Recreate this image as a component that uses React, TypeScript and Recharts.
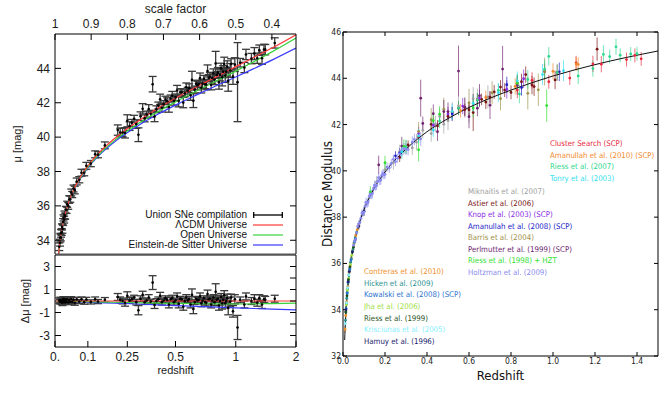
import React from "react";
import { ComposedChart, Scatter, Line, XAxis, YAxis, ErrorBar } from "recharts";

const SANS = "'Liberation Sans', Arial, Helvetica, sans-serif";
const MPL = "'DejaVu Sans Condensed', 'DejaVu Sans', sans-serif";

// ---------- left figure: Union compilation against three models ----------
const MODEL_Z = [0.008, 0.01, 0.015, 0.02, 0.03, 0.05, 0.07, 0.1, 0.15, 0.2, 0.3, 0.4, 0.5, 0.6, 0.7, 0.8, 1.0, 1.2, 1.5, 2.0];
const MU_LCDM = [32.69, 33.18, 34.07, 34.7, 35.6, 36.74, 37.5, 38.32, 39.27, 39.95, 40.94, 41.69, 42.26, 42.74, 43.14, 43.49, 44.1, 44.59, 45.18, 45.96];
const MU_OPEN = [32.68, 33.17, 34.05, 34.69, 35.57, 36.7, 37.45, 38.25, 39.17, 39.84, 40.79, 41.49, 42.05, 42.51, 42.9, 43.25, 43.84, 44.34, 44.96, 45.77];
const MU_EDS = [32.68, 33.16, 34.05, 34.67, 35.56, 36.68, 37.42, 38.21, 39.11, 39.76, 40.68, 41.34, 41.86, 42.29, 42.65, 42.97, 43.5, 43.94, 44.48, 45.18];

const RES_Z = [0, 0.1, 0.2, 0.3, 0.5, 0.7, 1.0, 1.5, 2.0];
const RES_LCDM = [0, 0, 0, 0, 0, 0, 0, 0, 0];
const RES_OPEN = [0, -0.06, -0.11, -0.15, -0.21, -0.24, -0.26, -0.22, -0.19];
const RES_EDS = [0, -0.1, -0.19, -0.26, -0.4, -0.49, -0.6, -0.7, -0.78];

// [redshift, mu, error]
const UNION = [
  [0.012, 33.62, 0.22], [0.014, 33.86, 0.2], [0.015, 34.15, 0.25], [0.016, 34.15, 0.18],
  [0.017, 34.4, 0.22], [0.019, 34.48, 0.2], [0.02, 34.78, 0.18], [0.021, 34.66, 0.25],
  [0.023, 35.06, 0.2], [0.024, 35.3, 0.18], [0.026, 35.2, 0.2], [0.027, 35.48, 0.22],
  [0.029, 35.4, 0.18], [0.031, 35.77, 0.2], [0.033, 35.76, 0.2], [0.035, 36.09, 0.18],
  [0.038, 36.0, 0.2], [0.041, 36.37, 0.22], [0.044, 36.39, 0.18], [0.047, 36.78, 0.2],
  [0.05, 36.66, 0.18], [0.054, 37.01, 0.2], [0.058, 36.92, 0.22], [0.064, 37.42, 0.2],
  [0.072, 37.52, 0.18], [0.079, 37.93, 0.2], [0.088, 37.93, 0.18], [0.095, 38.33, 0.2],
  [0.11, 38.46, 0.18], [0.125, 39.0, 0.2], [0.135, 38.98, 0.18], [0.16, 39.52, 0.2],
  [0.21, 40.41, 0.3], [0.22, 40.27, 0.25], [0.23, 40.27, 0.25], [0.24, 40.25, 0.3],
  [0.25, 40.95, 0.35], [0.26, 40.64, 0.25], [0.27, 40.83, 0.2], [0.28, 41.07, 0.2],
  [0.29, 40.76, 0.25], [0.3, 40.14, 0.4], [0.31, 41.22, 0.25], [0.32, 41.65, 0.3],
  [0.33, 41.09, 0.2], [0.34, 41.31, 0.2], [0.35, 41.64, 0.25], [0.36, 41.36, 0.2],
  [0.37, 43.08, 0.45], [0.38, 41.2, 0.3], [0.39, 41.62, 0.2], [0.4, 41.84, 0.2],
  [0.41, 42.2, 0.3], [0.42, 41.71, 0.25], [0.43, 41.92, 0.2], [0.44, 42.18, 0.2],
  [0.45, 42.09, 0.2], [0.46, 41.75, 0.3], [0.47, 42.25, 0.2], [0.48, 42.41, 0.25],
  [0.49, 42.11, 0.25], [0.5, 42.31, 0.2], [0.51, 42.71, 0.3], [0.52, 42.11, 0.35],
  [0.53, 42.61, 0.2], [0.54, 42.61, 0.2], [0.55, 42.01, 0.3], [0.56, 42.55, 0.2],
  [0.57, 42.9, 0.25], [0.58, 42.7, 0.2], [0.59, 42.85, 0.25], [0.6, 42.44, 0.3],
  [0.61, 43.33, 0.5], [0.62, 42.12, 0.4], [0.63, 42.77, 0.2], [0.64, 43.11, 0.2],
  [0.65, 43.0, 0.25], [0.66, 43.09, 0.2], [0.67, 43.43, 0.3], [0.68, 42.87, 0.3],
  [0.69, 43.1, 0.25], [0.7, 43.39, 0.2], [0.71, 43.07, 0.25], [0.72, 43.06, 0.3],
  [0.73, 43.85, 0.35], [0.74, 43.44, 0.2], [0.75, 43.52, 0.25], [0.76, 43.05, 0.3],
  [0.77, 43.44, 0.3], [0.78, 43.72, 0.25], [0.79, 43.35, 0.3], [0.8, 44.29, 0.7],
  [0.81, 43.62, 0.2], [0.82, 43.75, 0.3], [0.83, 43.19, 0.4], [0.84, 43.62, 0.35],
  [0.85, 44.0, 0.3], [0.86, 43.48, 0.5], [0.87, 43.81, 0.35], [0.88, 44.25, 0.4],
  [0.89, 43.58, 0.4], [0.9, 43.81, 0.25], [0.91, 44.09, 0.35], [0.92, 43.27, 0.6],
  [0.94, 43.88, 0.4], [0.95, 44.26, 0.3], [0.97, 43.52, 0.45], [0.99, 44.22, 0.4],
  [1.02, 43.2, 2.3], [1.05, 44.33, 0.25], [1.1, 44.05, 0.3], [1.12, 44.81, 0.3],
  [1.19, 44.57, 0.3], [1.23, 44.86, 0.35], [1.27, 44.59, 0.3], [1.3, 45.06, 0.3],
  [1.34, 44.59, 0.35], [1.37, 45.1, 0.3], [1.39, 45.09, 0.3], [1.55, 45.48, 0.3],
];

// [redshift, delta mu, error]
const UNION_RES = [
  [0.012, 0.04, 0.22], [0.014, -0.05, 0.2], [0.015, 0.08, 0.25], [0.016, -0.06, 0.18],
  [0.017, 0.06, 0.22], [0.019, -0.1, 0.2], [0.02, 0.08, 0.18], [0.021, -0.15, 0.25],
  [0.023, 0.05, 0.2], [0.024, 0.2, 0.18], [0.026, -0.08, 0.2], [0.027, 0.12, 0.22],
  [0.029, -0.12, 0.18], [0.031, 0.1, 0.2], [0.033, -0.05, 0.2], [0.035, 0.15, 0.18],
  [0.038, -0.12, 0.2], [0.041, 0.08, 0.22], [0.044, -0.06, 0.18], [0.047, 0.18, 0.2],
  [0.05, -0.08, 0.18], [0.054, 0.1, 0.2], [0.058, -0.15, 0.22], [0.064, 0.12, 0.2],
  [0.072, -0.05, 0.18], [0.079, 0.15, 0.2], [0.088, -0.1, 0.18], [0.095, 0.12, 0.2],
  [0.11, -0.08, 0.18], [0.125, 0.15, 0.2], [0.135, -0.05, 0.18], [0.16, 0.1, 0.2],
  [0.21, 0.35, 0.3], [0.22, 0.1, 0.25], [0.23, 0.0, 0.25], [0.24, -0.15, 0.3],
  [0.25, 0.45, 0.35], [0.26, 0.05, 0.25], [0.27, 0.15, 0.2], [0.28, 0.3, 0.2],
  [0.29, -0.1, 0.25], [0.3, -0.8, 0.4], [0.31, 0.2, 0.25], [0.32, 0.55, 0.3],
  [0.33, -0.1, 0.2], [0.34, 0.05, 0.2], [0.35, 0.3, 0.25], [0.36, -0.05, 0.2],
  [0.37, 1.6, 0.6], [0.38, -0.35, 0.3], [0.39, 0.0, 0.2], [0.4, 0.15, 0.2],
  [0.41, 0.45, 0.3], [0.42, -0.1, 0.25], [0.43, 0.05, 0.2], [0.44, 0.25, 0.2],
  [0.45, 0.1, 0.2], [0.46, -0.3, 0.3], [0.47, 0.15, 0.2], [0.48, 0.25, 0.25],
  [0.49, -0.1, 0.25], [0.5, 0.05, 0.2], [0.51, 0.4, 0.3], [0.52, -0.25, 0.35],
  [0.53, 0.2, 0.2], [0.54, 0.15, 0.2], [0.55, -0.5, 0.3], [0.56, 0.0, 0.2],
  [0.57, 0.3, 0.25], [0.58, 0.05, 0.2], [0.59, 0.15, 0.25], [0.6, -0.3, 0.3],
  [0.61, 0.55, 0.5], [0.62, -0.7, 0.4], [0.63, -0.1, 0.2], [0.64, 0.2, 0.2],
  [0.65, 0.05, 0.25], [0.66, 0.1, 0.2], [0.67, 0.4, 0.3], [0.68, -0.2, 0.3],
  [0.69, 0.0, 0.25], [0.7, 0.25, 0.2], [0.71, -0.1, 0.25], [0.72, -0.15, 0.3],
  [0.73, 0.6, 0.35], [0.74, 0.15, 0.2], [0.75, 0.2, 0.25], [0.76, -0.3, 0.3],
  [0.77, 0.05, 0.3], [0.78, 0.3, 0.25], [0.79, -0.1, 0.3], [0.8, 0.8, 0.7],
  [0.81, 0.1, 0.2], [0.82, 0.2, 0.3], [0.83, -0.4, 0.4], [0.84, 0.0, 0.35],
  [0.85, 0.35, 0.3], [0.86, -0.2, 0.5], [0.87, 0.1, 0.35], [0.88, 0.5, 0.4],
  [0.89, -0.2, 0.4], [0.9, 0.0, 0.25], [0.91, 0.25, 0.35], [0.92, -0.6, 0.6],
  [0.94, -0.05, 0.4], [0.95, 0.3, 0.3], [0.97, -0.9, 0.5], [0.99, 0.15, 0.4],
  [1.02, -2.3, 1.05], [1.05, 0.1, 0.25], [1.1, -0.3, 0.3], [1.12, 0.4, 0.3],
  [1.19, 0.0, 0.3], [1.23, 0.2, 0.35], [1.27, -0.15, 0.3], [1.3, 0.25, 0.3],
  [1.34, -0.3, 0.35], [1.37, 0.15, 0.3], [1.39, 0.1, 0.3], [1.55, 0.2, 0.3],
];

const Z_TICKS = [0, 0.1, 0.25, 0.5, 1, 2];
const Z_LABELS = ["0.", "0.1", "0.25", "0.5", "1", "2"];
const A_TICKS = [1, 0.9, 0.8, 0.7, 0.6, 0.5, 0.4];
const A_LABELS = ["1", "0.9", "0.8", "0.7", "0.6", "0.5", "0.4"];
const MU_TICKS = [34, 36, 38, 40, 42, 44];
const DMU_TICKS = [-3, -2, -1, 0, 1, 2, 3];
const LEFT_LEGEND = ["Union SNe compilation", "\u039BCDM Universe", "Open Universe", "Einstein-de Sitter Universe"];
const LEFT_COLORS = ["#000000", "#ff3b3b", "#3cd23c", "#3a3aff"];

// ---------- right figure: Hubble diagram by survey ----------
const R_X_TICKS = [0, 0.2, 0.4, 0.6, 0.8, 1.0, 1.2, 1.4];
const R_Y_TICKS = [32, 34, 36, 38, 40, 42, 44, 46];

// [redshift, distance modulus, error]
const HAMUY = [[0.014, 34.0, 0.15], [0.024, 35.2, 0.12], [0.03, 35.65, 0.15], [0.045, 36.5, 0.12], [0.06, 37.05, 0.15], [0.075, 37.6, 0.15], [0.1, 38.25, 0.2]];
const KRISCIUNAS = [[0.011, 33.4, 0.15], [0.017, 34.3, 0.12], [0.022, 34.95, 0.15], [0.028, 35.5, 0.12]];
const RIESS_1999 = [[0.013, 33.9, 0.2], [0.019, 34.6, 0.15], [0.026, 35.3, 0.15], [0.033, 35.85, 0.15], [0.05, 36.7, 0.15]];
const JHA = [[0.016, 34.2, 0.15], [0.021, 34.85, 0.15], [0.027, 35.35, 0.18], [0.035, 35.95, 0.15], [0.042, 36.35, 0.15]];
const KOWALSKI = [[0.015, 34.05, 0.12], [0.02, 34.7, 0.12], [0.025, 35.2, 0.12], [0.032, 35.75, 0.12], [0.038, 36.15, 0.15], [0.055, 36.95, 0.15]];
const HICKEN = [
  [0.012, 33.55, 0.15], [0.014, 33.9, 0.15], [0.016, 34.25, 0.12], [0.018, 34.5, 0.15], [0.02, 34.75, 0.12],
  [0.022, 34.9, 0.15], [0.024, 35.15, 0.12], [0.026, 35.3, 0.15], [0.028, 35.5, 0.15], [0.03, 35.65, 0.12],
  [0.033, 35.8, 0.15], [0.036, 36.05, 0.15], [0.04, 36.2, 0.15], [0.044, 36.5, 0.15], [0.048, 36.6, 0.15],
  [0.053, 36.9, 0.15], [0.058, 37.1, 0.15], [0.065, 37.35, 0.15],
];
const CONTRERAS = [
  [0.01, 33.15, 0.15], [0.013, 33.75, 0.15], [0.017, 34.35, 0.15], [0.023, 35.0, 0.15], [0.029, 35.6, 0.15],
  [0.034, 35.9, 0.15], [0.039, 36.2, 0.15], [0.046, 36.55, 0.15], [0.052, 36.85, 0.15], [0.06, 37.2, 0.15],
  [0.068, 37.45, 0.15], [0.075, 37.65, 0.15],
];
const HOLTZMAN = [
  [0.05, 36.79, 0.15], [0.055, 36.95, 0.15], [0.06, 37.05, 0.15], [0.065, 37.33, 0.15], [0.07, 37.6, 0.15],
  [0.075, 37.71, 0.15], [0.08, 37.76, 0.15], [0.085, 37.95, 0.15], [0.09, 38.18, 0.15], [0.095, 38.16, 0.15],
  [0.1, 38.22, 0.15], [0.105, 38.48, 0.2], [0.11, 38.64, 0.2], [0.115, 38.6, 0.2], [0.12, 38.65, 0.2],
  [0.125, 38.9, 0.2], [0.13, 38.99, 0.2], [0.135, 38.98, 0.2], [0.14, 39.01, 0.2], [0.145, 39.24, 0.2],
  [0.15, 39.37, 0.2], [0.155, 39.34, 0.2], [0.16, 39.37, 0.2], [0.165, 39.54, 0.2], [0.17, 39.71, 0.2],
  [0.175, 39.58, 0.2], [0.18, 39.6, 0.2], [0.185, 39.81, 0.2], [0.19, 39.88, 0.2], [0.195, 39.84, 0.2],
  [0.2, 39.85, 0.2], [0.21, 40.16, 0.2], [0.22, 40.12, 0.2], [0.23, 40.32, 0.2], [0.24, 40.5, 0.2],
  [0.25, 40.4, 0.2], [0.26, 40.54, 0.2], [0.27, 40.73, 0.2], [0.28, 40.87, 0.25], [0.29, 40.96, 0.25],
  [0.3, 40.94, 0.25], [0.31, 40.92, 0.25], [0.33, 41.24, 0.25], [0.34, 41.36, 0.25], [0.37, 41.38, 0.3],
];
const RIESS_1998 = [[0.13, 39.09, 0.25], [0.2, 40.35, 0.3], [0.29, 41.06, 0.3], [0.36, 40.91, 0.5], [0.43, 42.17, 0.3], [0.46, 42.45, 0.35], [0.62, 42.72, 0.4], [0.83, 43.79, 0.4], [0.97, 42.82, 0.7]];
const PERLMUTTER = [
  [0.17, 40.26, 0.4], [0.28, 41.07, 0.4], [0.37, 43.14, 0.8], [0.38, 42.05, 0.3], [0.43, 42.47, 0.4],
  [0.45, 41.69, 0.4], [0.48, 42.56, 0.5], [0.5, 42.56, 0.4], [0.55, 44.31, 1.1], [0.58, 42.75, 0.4],
  [0.6, 42.34, 0.5], [0.64, 42.71, 0.35], [0.65, 43.25, 0.5], [0.7, 42.84, 0.6], [0.76, 44.4, 1.0], [0.83, 43.69, 0.4],
];
const BARRIS = [[0.36, 41.71, 0.4], [0.42, 42.21, 0.5], [0.48, 42.66, 0.5], [0.6, 42.94, 0.6], [0.71, 43.37, 0.5], [0.75, 43.12, 0.5], [0.88, 43.35, 0.7], [0.93, 43.5, 0.7], [0.96, 44.29, 0.6]];
const AMANULLAH_2008 = [[0.25, 40.65, 0.2], [0.27, 40.78, 0.2], [0.52, 42.46, 0.3], [0.78, 43.72, 0.35], [0.85, 43.6, 0.35], [1.03, 44.28, 0.4]];
const KNOP = [[0.36, 41.61, 0.3], [0.43, 41.97, 0.3], [0.5, 42.46, 0.3], [0.57, 42.8, 0.35], [0.65, 43.15, 0.35], [0.78, 43.52, 0.4], [0.86, 43.98, 0.4]];
const ASTIER = [
  [0.27, 40.58, 0.2], [0.31, 41.12, 0.2], [0.36, 41.46, 0.2], [0.42, 42.01, 0.25], [0.45, 41.94, 0.25],
  [0.5, 42.36, 0.2], [0.52, 42.51, 0.25], [0.55, 42.71, 0.3], [0.58, 42.65, 0.25], [0.6, 42.64, 0.25],
  [0.62, 42.52, 0.8], [0.64, 43.06, 0.3], [0.66, 43.09, 0.25], [0.68, 42.97, 0.3], [0.7, 43.19, 0.25],
  [0.72, 43.41, 0.3], [0.75, 43.62, 0.3], [0.77, 43.49, 0.3], [0.8, 43.39, 0.3], [0.83, 43.79, 0.35],
  [0.85, 43.85, 0.35], [0.87, 44.16, 0.35], [0.9, 43.71, 0.4], [0.91, 43.64, 0.4], [0.96, 44.29, 0.35],
  [1.01, 43.93, 0.4], [1.21, 45.26, 0.5],
];
const MIKNAITIS = [
  [0.16, 39.52, 0.25], [0.2, 40.05, 0.3], [0.24, 40.35, 0.3], [0.27, 40.83, 0.3], [0.3, 41.04, 0.3],
  [0.33, 40.99, 0.3], [0.35, 41.24, 0.35], [0.38, 41.75, 0.35], [0.42, 41.61, 0.35], [0.44, 42.03, 0.35],
  [0.46, 42.35, 0.35], [0.48, 42.01, 0.4], [0.5, 42.16, 0.4], [0.52, 42.56, 0.4], [0.55, 42.81, 0.4],
  [0.58, 42.75, 0.45], [0.6, 42.54, 0.45], [0.62, 43.12, 0.5], [0.64, 43.11, 0.45], [0.69, 43.2, 0.5],
];
const TONRY = [[0.28, 40.82, 0.3], [0.36, 41.51, 0.3], [0.43, 41.77, 0.3], [0.52, 42.56, 0.35], [0.62, 42.92, 0.35], [0.74, 43.38, 0.4], [0.83, 43.89, 0.4], [0.95, 44.16, 0.45], [1.05, 44.33, 0.45]];
const RIESS_2007 = [
  [0.3, 41.04, 0.3], [0.46, 42.15, 0.3], [0.55, 42.71, 0.3], [0.64, 43.06, 0.3], [0.74, 43.48, 0.3],
  [0.84, 43.32, 0.4], [0.88, 43.95, 0.4], [0.96, 44.39, 0.4], [0.98, 44.95, 0.4], [1.02, 44.25, 0.35],
  [1.12, 44.1, 0.35], [1.19, 44.42, 0.35], [1.24, 45.03, 0.4], [1.27, 44.94, 0.3], [1.3, 45.36, 0.35],
  [1.32, 45.0, 0.3], [1.37, 45.05, 0.3], [1.4, 45.06, 0.3],
];
const AMANULLAH_2010 = [[0.56, 42.6, 0.3], [0.68, 43.17, 0.3], [0.82, 43.65, 0.35], [1.0, 44.3, 0.35], [1.11, 44.62, 0.3], [1.12, 44.6, 0.3]];
const CLUSTER = [[0.83, 43.49, 0.35], [0.9, 43.91, 0.35], [0.98, 43.85, 0.3], [1.02, 44.25, 0.35], [1.08, 44.01, 0.3], [1.11, 44.67, 0.3], [1.19, 44.62, 0.35], [1.23, 44.61, 0.35], [1.35, 44.81, 0.3], [1.39, 44.99, 0.3], [1.42, 44.84, 0.3]];

const SURVEYS_HIGH = [
  { name: "Cluster Search (SCP)", color: "#e8283c", rows: CLUSTER },
  { name: "Amanullah et al. (2010) (SCP)", color: "#f0882a", rows: AMANULLAH_2010 },
  { name: "Riess et al. (2007)", color: "#2ed88c", rows: RIESS_2007 },
  { name: "Tonry et al. (2003)", color: "#33e0f0", rows: TONRY },
];
const SURVEYS_MID = [
  { name: "Miknaitis et al. (2007)", color: "#a0a0a0", rows: MIKNAITIS },
  { name: "Astier et al. (2006)", color: "#7a1414", rows: ASTIER },
  { name: "Knop et al. (2003) (SCP)", color: "#8a2be2", rows: KNOP },
  { name: "Amanullah et al. (2008) (SCP)", color: "#2020c8", rows: AMANULLAH_2008 },
  { name: "Barris et al. (2004)", color: "#9c9048", rows: BARRIS },
  { name: "Perlmutter et al. (1999) (SCP)", color: "#6e2270", rows: PERLMUTTER },
  { name: "Riess et al. (1998) + HZT", color: "#2ee02e", rows: RIESS_1998 },
  { name: "Holtzman et al. (2009)", color: "#8a8aee", rows: HOLTZMAN },
];
const SURVEYS_LOW = [
  { name: "Contreras et al. (2010)", color: "#f0902c", rows: CONTRERAS },
  { name: "Hicken et al. (2009)", color: "#2a9090", rows: HICKEN },
  { name: "Kowalski et al. (2008) (SCP)", color: "#2a72d0", rows: KOWALSKI },
  { name: "Jha et al. (2006)", color: "#a0e040", rows: JHA },
  { name: "Riess et al. (1999)", color: "#1e5020", rows: RIESS_1999 },
  { name: "Krisciunas et al. (2005)", color: "#88f0ff", rows: KRISCIUNAS },
  { name: "Hamuy et al. (1996)", color: "#20206a", rows: HAMUY },
];

// horizontal axis of the left figure is linear in 1 - a = z / (1 + z)
const toX = (z: number) => z / (1 + z);
const pts = (rows: number[][]) => rows.map(([z, y, e]) => ({ x: toX(z), y, e }));
const curve = (zs: number[], ys: number[]) => zs.map((z, i) => ({ x: toX(z), y: ys[i] }));
const rawPts = (rows: number[][]) => rows.map(([z, y, e]) => ({ x: z, y, e }));
const rawCurve = (zs: number[], ys: number[]) => zs.map((z, i) => ({ x: z, y: ys[i] }));

const dot = (r: number, c: string) => (p: any) => <circle cx={p.cx} cy={p.cy} r={r} fill={c} />;
const blank = () => "";

const leftTick = { fill: "#1a1a1a", fontSize: 12, fontFamily: SANS };
const rightTick = { fill: "#222", fontSize: 8.5, fontFamily: MPL };

function UnionTop() {
  return (
    <ComposedChart width={310} height={256} margin={{ top: 0, right: 4, bottom: 0, left: 15 }}>
      <XAxis
        xAxisId="a" orientation="top" type="number" dataKey="x" domain={[0, 2 / 3]} allowDataOverflow
        ticks={A_TICKS.map((a) => 1 - a)} tickFormatter={(_v: number, i: number) => A_LABELS[i]}
        height={34} tickSize={-6} tickMargin={12} tick={leftTick}
        axisLine={{ stroke: "#000" }} tickLine={{ stroke: "#000" }}
        label={{ value: "scale factor", position: "insideTop", offset: 4, style: { fontSize: 12, fill: "#222", fontFamily: SANS } }}
      />
      <XAxis
        xAxisId="z" orientation="bottom" type="number" dataKey="x" domain={[0, 2 / 3]} allowDataOverflow
        ticks={Z_TICKS.map(toX)} tickFormatter={blank} height={2} tickLine={false}
        axisLine={{ stroke: "#555" }}
      />
      <YAxis
        yAxisId="l" type="number" dataKey="y" domain={[33.2, 46]} allowDataOverflow ticks={MU_TICKS}
        width={40} tickSize={-6} tickMargin={11} tick={leftTick}
        axisLine={{ stroke: "#000" }} tickLine={{ stroke: "#000" }}
        label={{ value: "\u03BC [mag]", angle: -90, position: "insideLeft", offset: 2, style: { textAnchor: "middle", fontSize: 11, fill: "#222", fontFamily: SANS } }}
      />
      <YAxis
        yAxisId="r" orientation="right" type="number" domain={[33.2, 46]} allowDataOverflow ticks={MU_TICKS}
        width={10} tickSize={-6} tickFormatter={blank} axisLine={{ stroke: "#000" }} tickLine={{ stroke: "#000" }}
      />
      <Scatter xAxisId="z" yAxisId="l" data={pts(UNION)} shape={dot(1.3, "#000")} isAnimationActive={false}>
        <ErrorBar dataKey="e" direction="y" width={4} stroke="#3a3a3a" strokeWidth={1.3} />
      </Scatter>
      <Line xAxisId="z" yAxisId="l" data={curve(MODEL_Z, MU_EDS)} dataKey="y" type="monotone" dot={false} stroke={LEFT_COLORS[3]} strokeWidth={1.2} isAnimationActive={false} />
      <Line xAxisId="z" yAxisId="l" data={curve(MODEL_Z, MU_OPEN)} dataKey="y" type="monotone" dot={false} stroke={LEFT_COLORS[2]} strokeWidth={1.2} isAnimationActive={false} />
      <Line xAxisId="z" yAxisId="l" data={curve(MODEL_Z, MU_LCDM)} dataKey="y" type="monotone" dot={false} stroke={LEFT_COLORS[1]} strokeWidth={1.2} isAnimationActive={false} />
    </ComposedChart>
  );
}

function UnionResiduals() {
  return (
    <ComposedChart width={310} height={136} margin={{ top: 0, right: 4, bottom: 5, left: 15 }}>
      <XAxis
        xAxisId="a" orientation="top" type="number" dataKey="x" domain={[0, 2 / 3]} allowDataOverflow
        tickFormatter={blank} height={1} tickLine={false} axisLine={{ stroke: "#000" }}
      />
      <XAxis
        xAxisId="z" orientation="bottom" type="number" dataKey="x" domain={[0, 2 / 3]} allowDataOverflow
        ticks={Z_TICKS.map(toX)} tickFormatter={(_v: number, i: number) => Z_LABELS[i]}
        height={38} tickSize={-6} tickMargin={11} tick={leftTick}
        axisLine={{ stroke: "#000" }} tickLine={{ stroke: "#000" }}
        label={{ value: "redshift", position: "insideBottom", offset: 11, style: { fontSize: 11, fill: "#222", fontFamily: SANS } }}
      />
      <YAxis
        yAxisId="l" type="number" dataKey="y" domain={[-4, 4]} allowDataOverflow ticks={DMU_TICKS}
        width={40} tickSize={-6} tickMargin={11} tick={leftTick}
        axisLine={{ stroke: "#000" }} tickLine={{ stroke: "#000" }}
        label={{ value: "\u0394\u03BC [mag]", angle: -90, position: "insideLeft", offset: 10, style: { textAnchor: "middle", fontSize: 11, fill: "#222", fontFamily: SANS } }}
      />
      <YAxis
        yAxisId="r" orientation="right" type="number" domain={[-4, 4]} allowDataOverflow ticks={DMU_TICKS}
        width={10} tickSize={-6} tickFormatter={blank} axisLine={{ stroke: "#000" }} tickLine={{ stroke: "#000" }}
      />
      <Scatter xAxisId="z" yAxisId="l" data={pts(UNION_RES)} shape={dot(1.3, "#000")} isAnimationActive={false}>
        <ErrorBar dataKey="e" direction="y" width={4} stroke="#3a3a3a" strokeWidth={1.3} />
      </Scatter>
      <Line xAxisId="z" yAxisId="l" data={curve(RES_Z, RES_EDS)} dataKey="y" type="monotone" dot={false} stroke={LEFT_COLORS[3]} strokeWidth={1.2} isAnimationActive={false} />
      <Line xAxisId="z" yAxisId="l" data={curve(RES_Z, RES_OPEN)} dataKey="y" type="monotone" dot={false} stroke={LEFT_COLORS[2]} strokeWidth={1.2} isAnimationActive={false} />
      <Line xAxisId="z" yAxisId="l" data={curve(RES_Z, RES_LCDM)} dataKey="y" type="monotone" dot={false} stroke={LEFT_COLORS[1]} strokeWidth={1.2} isAnimationActive={false} />
    </ComposedChart>
  );
}

function LeftLegend() {
  return (
    <div style={{ position: "absolute", left: 0, top: 210, width: 288, fontFamily: SANS, fontSize: 10, color: "#111" }}>
      {LEFT_LEGEND.map((name, i) => (
        <div key={name} style={{ display: "flex", justifyContent: "flex-end", alignItems: "center", height: 10, lineHeight: "10px" }}>
          <span style={{ whiteSpace: "nowrap", marginRight: 6 }}>{name}</span>
          <svg width={35} height={10}>
            <line x1={0} y1={5} x2={30} y2={5} stroke={LEFT_COLORS[i]} strokeWidth={i === 0 ? 1.3 : 1.2} />
            {i === 0 && (
              <g stroke="#000" strokeWidth={1.3}>
                <line x1={0.7} y1={2} x2={0.7} y2={8} />
                <line x1={29.3} y1={2} x2={29.3} y2={8} />
              </g>
            )}
          </svg>
        </div>
      ))}
    </div>
  );
}

const ALL_SURVEYS = [...SURVEYS_LOW, ...SURVEYS_MID, ...SURVEYS_HIGH];

function Hubble() {
  return (
    <ComposedChart width={354} height={394} margin={{ top: 30, right: 3, bottom: 6, left: 3 }}>
      <XAxis
        xAxisId="t" orientation="top" type="number" dataKey="x" domain={[0, 1.5]} allowDataOverflow
        ticks={R_X_TICKS} tickFormatter={blank} height={2} tickSize={-4}
        axisLine={{ stroke: "#000" }} tickLine={{ stroke: "#000" }}
      />
      <XAxis
        xAxisId="b" orientation="bottom" type="number" dataKey="x" domain={[0, 1.5]} allowDataOverflow
        ticks={R_X_TICKS} tickFormatter={(v: number) => v.toFixed(1)} height={32} tickSize={-4} tickMargin={6}
        tick={rightTick} axisLine={{ stroke: "#000" }} tickLine={{ stroke: "#000" }}
        label={{ value: "Redshift", position: "insideBottom", offset: 8, style: { fontSize: 13, fill: "#111", fontFamily: MPL } }}
      />
      <YAxis
        yAxisId="l" type="number" dataKey="y" domain={[32, 46]} allowDataOverflow ticks={R_Y_TICKS}
        width={30} tickSize={-4} tickMargin={6} tick={rightTick}
        axisLine={{ stroke: "#000" }} tickLine={{ stroke: "#000" }}
        label={{ value: "Distance Modulus", angle: -90, position: "insideLeft", offset: 14, style: { textAnchor: "middle", fontSize: 13.3, fill: "#111", fontFamily: MPL } }}
      />
      <YAxis
        yAxisId="r" orientation="right" type="number" domain={[32, 46]} allowDataOverflow ticks={R_Y_TICKS}
        width={3} tickSize={-4} tickFormatter={blank} axisLine={{ stroke: "#000" }} tickLine={{ stroke: "#000" }}
      />
      {ALL_SURVEYS.map((s) => (
        <Scatter key={s.name} xAxisId="b" yAxisId="l" data={rawPts(s.rows)} shape={dot(1.4, s.color)} isAnimationActive={false}>
          <ErrorBar dataKey="e" direction="y" width={0} stroke={s.color} strokeWidth={0.9} strokeOpacity={0.75} />
        </Scatter>
      ))}
      <Line xAxisId="b" yAxisId="l" data={rawCurve(MODEL_Z.slice(0, 19), MU_LCDM.slice(0, 19))} dataKey="y" type="monotone" dot={false} stroke="#111" strokeWidth={1} isAnimationActive={false} />
    </ComposedChart>
  );
}

function SurveyLabels({ items, left, top, step }: { items: { name: string; color: string }[]; left: number; top: number; step: number }) {
  return (
    <div style={{ position: "absolute", left, top, fontFamily: MPL, fontSize: 7.8 }}>
      {items.map((s) => (
        <div key={s.name} style={{ height: step, lineHeight: `${step}px`, color: s.color, whiteSpace: "nowrap" }}>{s.name}</div>
      ))}
    </div>
  );
}

export default function App() {
  return (
    <div style={{ position: "absolute", left: 0, top: 0, width: 664, height: 394, background: "#fff", overflow: "hidden" }}>
      <div style={{ position: "absolute", left: 0, top: 0 }}>
        <UnionTop />
      </div>
      <div style={{ position: "absolute", left: 0, top: 254 }}>
        <UnionResiduals />
      </div>
      <LeftLegend />
      <div style={{ position: "absolute", left: 310, top: 0 }}>
        <Hubble />
      </div>
      <SurveyLabels items={SURVEYS_HIGH} left={550} top={138.3} step={11.5} />
      <SurveyLabels items={SURVEYS_MID} left={468} top={186} step={11.5} />
      <SurveyLabels items={SURVEYS_LOW} left={364} top={266} step={11.67} />
    </div>
  );
}
